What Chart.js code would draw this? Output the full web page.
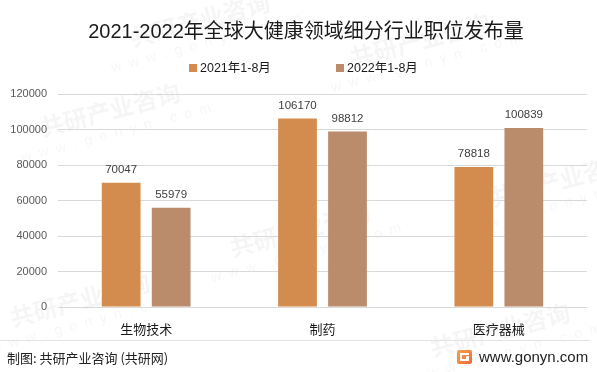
<!DOCTYPE html>
<html>
<head>
<meta charset="utf-8">
<script src="https://cdn.jsdelivr.net/npm/chart.js@4/dist/chart.umd.min.js"></script>
<style>
    html, body { margin: 0; padding: 0; background: #fff; }
    #wrap { position: relative; width: 597px; height: 372px; }
</style>
</head>
<body>
<div id="wrap"><canvas id="chart" width="597" height="372"></canvas></div>
<script>
const categories = ['生物技术', '制药', '医疗器械'];
const seriesNames = ['2021年1-8月', '2022年1-8月'];
const values2021 = [70047, 106170, 78818];
const values2022 = [55979, 98812, 100839];
const yTicks = [0, 20000, 40000, 60000, 80000, 100000, 120000];

const FONT = "'Liberation Sans', 'Noto Sans CJK SC', sans-serif";
const CJK = "'Noto Sans CJK SC', 'Liberation Sans', sans-serif";

// title, legend, footer and faint watermark
const decorPlugin = {
    id: 'decor',
    beforeDraw(chart) {
        const ctx = chart.ctx;
        ctx.save();
        ctx.fillStyle = 'rgba(0,0,0,0.04)';
        ctx.textAlign = 'center';
        ctx.textBaseline = 'middle';
        const marks = [[110, 110], [420, 40], [300, 230], [560, 180], [80, 300], [500, 330], [200, 20]];
        marks.forEach(([x, y]) => {
            ctx.save();
            ctx.translate(x, y);
            ctx.rotate(-0.26);
            ctx.font = 'bold 24px ' + CJK;
            ctx.fillText('共研产业咨询', 0, 0);
            ctx.font = '14px ' + FONT;
            ctx.fillText('w  w  w  .  g  o  n  y  n  .  c  o  m', 0, 24);
            ctx.restore();
        });
        ctx.restore();
    },
    afterDraw(chart) {
        const ctx = chart.ctx;
        ctx.save();
        // title
        ctx.fillStyle = '#1a1a1a';
        ctx.font = '20px ' + FONT;
        ctx.textAlign = 'center';
        ctx.textBaseline = 'middle';
        ctx.fillText('2021-2022年全球大健康领域细分行业职位发布量', 306, 32);

        // legend
        ctx.font = '12.5px ' + FONT;
        ctx.textAlign = 'left';
        const legendX = [189, 336];
        chart.data.datasets.forEach((ds, i) => {
            ctx.fillStyle = ds.backgroundColor;
            ctx.fillRect(legendX[i], 64, 8, 8);
            ctx.fillStyle = '#1a1a1a';
            ctx.fillText(ds.label, legendX[i] + 11, 68.5);
        });

        // footer
        ctx.strokeStyle = '#e3e3e3';
        ctx.lineWidth = 1;
        ctx.beginPath();
        ctx.moveTo(0, 340.5);
        ctx.lineTo(590, 340.5);
        ctx.stroke();

        ctx.fillStyle = '#222';
        ctx.font = '13px ' + CJK;
        ctx.fillText('制图: 共研产业咨询 (共研网)', 7, 358);

        // logo
        const g = ctx.createLinearGradient(457, 350, 472, 364);
        g.addColorStop(0, '#f7a24a');
        g.addColorStop(1, '#ef6a3a');
        ctx.fillStyle = g;
        ctx.beginPath();
        ctx.roundRect(457, 350, 15, 14, 2);
        ctx.fill();
        ctx.fillStyle = '#fff';
        ctx.fillRect(460, 353, 9, 2);
        ctx.fillRect(460, 353, 2, 8);
        ctx.fillRect(460, 359, 9, 2);
        ctx.fillRect(466, 356, 3, 5);

        ctx.fillStyle = '#222';
        ctx.font = '15px ' + FONT;
        ctx.fillText('www.gonyn.com', 479, 357.5);
        ctx.restore();
    }
};

// value labels above bars
const valueLabels = {
    id: 'valueLabels',
    afterDatasetsDraw(chart) {
        const ctx = chart.ctx;
        ctx.save();
        ctx.fillStyle = '#404040';
        ctx.font = '11.5px ' + FONT;
        ctx.textAlign = 'center';
        ctx.textBaseline = 'middle';
        chart.data.datasets.forEach((ds, i) => {
            chart.getDatasetMeta(i).data.forEach((bar, j) => {
                ctx.fillText(String(ds.data[j]), bar.x, bar.y - 13);
            });
        });
        ctx.restore();
    }
};

new Chart(document.getElementById('chart'), {
    type: 'bar',
    data: {
        labels: categories,
        datasets: [{
            label: seriesNames[0],
            data: values2021,
            backgroundColor: '#d38c4e'
        }, {
            label: seriesNames[1],
            data: values2022,
            backgroundColor: '#ba8c6b'
        }]
    },
    options: {
        responsive: false,
        animation: false,
        events: [],
        layout: { padding: { top: 94, right: 10, bottom: 35, left: 0 } },
        datasets: {
            bar: { categoryPercentage: 0.567, barPercentage: 0.775 }
        },
        plugins: {
            legend: { display: false },
            title: { display: false },
            tooltip: { enabled: false }
        },
        scales: {
            x: {
                grid: { display: false, drawTicks: false },
                border: { display: false },
                afterFit: (s) => { s.height = 30; },
                ticks: { color: '#1a1a1a', font: { size: 13, family: CJK }, padding: 14 }
            },
            y: {
                min: 0,
                max: 120000,
                afterFit: (s) => { s.width = 58; },
                afterBuildTicks: (s) => { s.ticks = yTicks.map(v => ({ value: v })); },
                grid: { color: '#d9d9d9', drawTicks: false },
                border: { display: false },
                ticks: {
                    color: '#595959',
                    font: { size: 11, family: FONT },
                    padding: 11,
                    callback: (v) => String(v)
                }
            }
        }
    },
    plugins: [decorPlugin, valueLabels]
});
</script>
</body>
</html>
